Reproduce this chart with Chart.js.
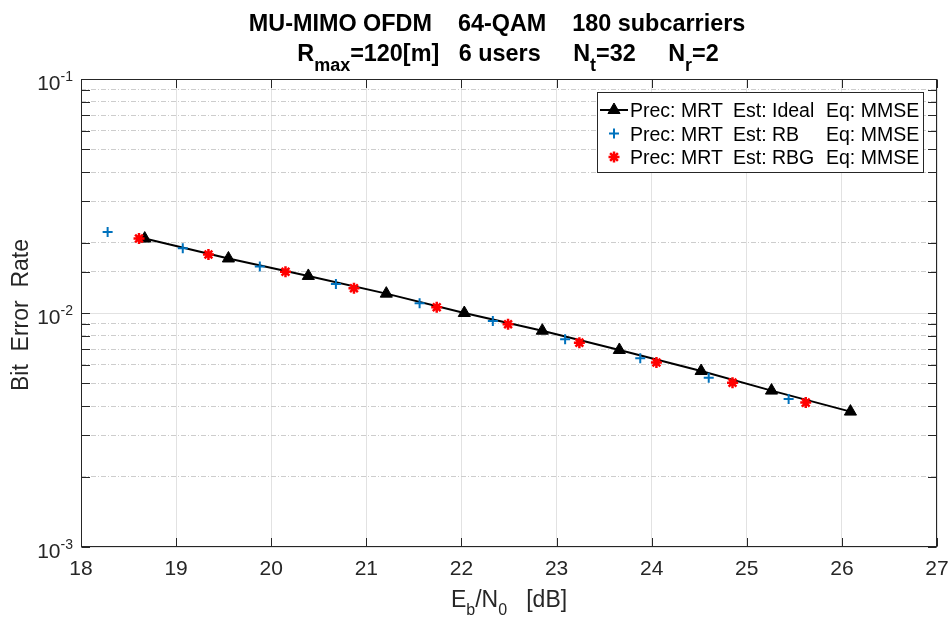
<!DOCTYPE html>
<html>
<head>
<meta charset="utf-8">
<title>MU-MIMO OFDM BER</title>
<script src="https://cdn.jsdelivr.net/npm/chart.js@4.4.1/dist/chart.umd.min.js"></script>
<style>
  html, body { margin: 0; padding: 0; background: #fff; }
  #wrap { width: 950px; height: 618px; position: relative; }
</style>
</head>
<body>
<div id="wrap"><canvas id="berChart"></canvas></div>
<script>
// values: Eb/N0 [dB] and bit error rate per curve
const idealEbN0 = [18.67, 19.55, 20.39, 21.21, 22.03, 22.85, 23.66, 24.52, 25.26, 26.09];
const idealBer  = [0.0208, 0.0171, 0.0144, 0.0121, 0.0100, 0.0084, 0.00695, 0.00565, 0.00466, 0.00379];

const rbEbN0 = [18.28, 19.07, 19.88, 20.68, 21.56, 22.33, 23.09, 23.88, 24.60, 25.44];
const rbBer  = [0.0222, 0.0189, 0.0158, 0.0133, 0.0110, 0.00925, 0.00772, 0.0064, 0.00529, 0.00429];

const rbgEbN0 = [18.61, 19.34, 20.15, 20.87, 21.74, 22.49, 23.24, 24.05, 24.85, 25.62];
const rbgBer  = [0.0208, 0.0178, 0.0150, 0.01276, 0.01058, 0.00895, 0.00747, 0.00615, 0.00504, 0.00414];

const seriesLabels = [
  'Prec: MRT  Est: Ideal  Eq: MMSE',
  'Prec: MRT  Est: RB  Eq: MMSE',
  'Prec: MRT  Est: RBG  Eq: MMSE'
];
const xRange = [18, 27];
const yDecades = [-3, -2, -1];

const FONT = "'Liberation Sans', Arial, Helvetica, sans-serif";
const AXIS_COLOR = '#262626';

function pts(xs, ys) {
  return xs.map((x, i) => ({ x: x, y: ys[i] }));
}

function isDecade(v) {
  const l = Math.log10(v);
  return Math.abs(l - Math.round(l)) < 1e-6;
}

// text with sub/superscripts, parts = [[text, 'sub'|'sup'|undefined], ...]
function drawRich(ctx, parts, x, y, o) {
  const fontOf = p => (o.bold ? 'bold ' : '') + (p[1] ? o.small : o.size) + 'px ' + FONT;
  let w = 0;
  parts.forEach(p => { ctx.font = fontOf(p); w += ctx.measureText(p[0]).width; });
  let cx = o.align === 'center' ? x - w / 2 : (o.align === 'right' ? x - w : x);
  ctx.textAlign = 'left';
  ctx.textBaseline = 'alphabetic';
  parts.forEach(p => {
    ctx.font = fontOf(p);
    const dy = p[1] === 'sub' ? o.shift : (p[1] === 'sup' ? -o.shift : 0);
    ctx.fillText(p[0], cx, y + dy);
    cx += ctx.measureText(p[0]).width;
  });
}

const matlabAxes = {
  id: 'matlabAxes',
  afterDatasetsDraw(chart) {
    const ctx = chart.ctx;
    const a = chart.chartArea;
    const xs = chart.scales.x, ys = chart.scales.y;
    const L = Math.round(a.left) + 0.5, R = Math.round(a.right) - 0.5;
    const T = Math.round(a.top) + 0.5, B = Math.round(a.bottom) - 0.5;
    ctx.save();
    ctx.strokeStyle = AXIS_COLOR;
    ctx.lineWidth = 1;
    ctx.beginPath();
    xs.ticks.forEach(t => {
      const px = Math.round(xs.getPixelForValue(t.value)) + 0.5;
      ctx.moveTo(px, B); ctx.lineTo(px, B - 8.5);
      ctx.moveTo(px, T); ctx.lineTo(px, T + 8.5);
    });
    ys.ticks.forEach(t => {
      const py = Math.round(ys.getPixelForValue(t.value)) + 0.5;
      ctx.moveTo(L, py); ctx.lineTo(L + 8.5, py);
      ctx.moveTo(R, py); ctx.lineTo(R - 8.5, py);
    });
    ctx.stroke();
    ctx.strokeRect(L, T, R - L, B - T);
    ctx.restore();
  },
  afterDraw(chart) {
    const ctx = chart.ctx;
    const a = chart.chartArea;
    const xs = chart.scales.x, ys = chart.scales.y;
    ctx.save();
    ctx.fillStyle = AXIS_COLOR;

    // x tick labels
    ctx.font = '21px ' + FONT;
    ctx.textAlign = 'center';
    ctx.textBaseline = 'alphabetic';
    xs.ticks.forEach(t => ctx.fillText(String(t.value), xs.getPixelForValue(t.value), a.bottom + 28));

    // y tick labels 10^e
    yDecades.forEach(e => {
      const py = ys.getPixelForValue(Math.pow(10, e));
      drawRich(ctx, [['10'], [String(e), 'sup']], a.left - 8, py + 11,
        { size: 21, small: 14, shift: 9, align: 'right' });
    });

    // axis titles
    drawRich(ctx, [['E'], ['b', 'sub'], ['/N'], ['0', 'sub'], ['   [dB]']],
      (a.left + a.right) / 2, 607, { size: 23, small: 16, shift: 8, align: 'center' });
    ctx.save();
    ctx.translate(28, (a.top + a.bottom) / 2 + 2);
    ctx.rotate(-Math.PI / 2);
    ctx.font = '23px ' + FONT;
    ctx.textAlign = 'center';
    ctx.textBaseline = 'alphabetic';
    ctx.fillText('Bit  Error  Rate', 0, 0);
    ctx.restore();

    // title, two lines
    ctx.fillStyle = '#000';
    drawRich(ctx, [['MU-MIMO OFDM    64-QAM    180 subcarriers']], 497, 31,
      { size: 23.4, small: 18, shift: 10, bold: true, align: 'center' });
    drawRich(ctx, [['R'], ['max', 'sub'], ['=120[m]   6 users     N'], ['t', 'sub'], ['=32     N'], ['r', 'sub'], ['=2']],
      508, 61, { size: 23.4, small: 18, shift: 10, bold: true, align: 'center' });

    // legend box in the upper right corner
    const bx = 597.5, by = 92.5, bw = 326, bh = 80;
    ctx.fillStyle = '#fff';
    ctx.fillRect(bx, by, bw, bh);
    ctx.strokeStyle = AXIS_COLOR;
    ctx.lineWidth = 1;
    ctx.strokeRect(bx, by, bw, bh);
    const cols = [630, 733, 826];
    chart.data.datasets.forEach((ds, i) => {
      const ry = 110 + i * 23.5;
      if (ds.showLine) {
        ctx.strokeStyle = ds.borderColor;
        ctx.lineWidth = ds.borderWidth;
        ctx.beginPath(); ctx.moveTo(600, ry); ctx.lineTo(628, ry); ctx.stroke();
      }
      ctx.strokeStyle = ds.borderColor;
      ctx.fillStyle = ds.backgroundColor;
      ctx.lineWidth = ds.pointBorderWidth;
      Chart.helpers.drawPoint(ctx, {
        pointStyle: ds.pointStyle, radius: ds.pointRadius,
        borderWidth: ds.pointBorderWidth, rotation: 0
      }, 614, ry);
      ctx.fillStyle = '#000';
      ctx.font = '19.5px ' + FONT;
      ctx.textAlign = 'left';
      ctx.textBaseline = 'alphabetic';
      ds.label.split(/\s{2,}/).forEach((s, k) => ctx.fillText(s, cols[k], ry + 7));
    });
    ctx.restore();
  }
};

new Chart(document.getElementById('berChart'), {
  type: 'scatter',
  data: {
    datasets: [
      {
        label: seriesLabels[0],
        data: pts(idealEbN0, idealBer),
        showLine: true,
        borderColor: '#000000',
        backgroundColor: '#000000',
        borderWidth: 2,
        pointStyle: 'triangle',
        pointRadius: 7,
        pointBorderWidth: 1,
        order: 3
      },
      {
        label: seriesLabels[1],
        data: pts(rbEbN0, rbBer),
        showLine: false,
        borderColor: '#0072BD',
        backgroundColor: '#0072BD',
        pointStyle: 'cross',
        pointRadius: 5,
        pointBorderWidth: 2,
        order: 2
      },
      {
        label: seriesLabels[2],
        data: pts(rbgEbN0, rbgBer),
        showLine: false,
        borderColor: '#FF0000',
        backgroundColor: '#FF0000',
        pointStyle: 'star',
        pointRadius: 5.5,
        pointBorderWidth: 2.5,
        order: 1
      }
    ]
  },
  options: {
    responsive: true,
    maintainAspectRatio: false,
    animation: false,
    layout: { padding: { top: 79, right: 13, left: 0, bottom: 0 } },
    plugins: {
      legend: { display: false },
      tooltip: { enabled: false },
      title: { display: false }
    },
    scales: {
      x: {
        type: 'linear',
        min: xRange[0],
        max: xRange[1],
        ticks: { stepSize: 1, display: false },
        grid: { color: '#e2e2e2', drawTicks: false },
        border: { display: false },
        afterFit(s) { s.height = 71; }
      },
      y: {
        type: 'logarithmic',
        min: Math.pow(10, yDecades[0]),
        max: Math.pow(10, yDecades[yDecades.length - 1]),
        ticks: { display: false },
        grid: {
          drawTicks: false,
          color: c => (c.tick && isDecade(c.tick.value)) ? '#e2e2e2' : 'rgba(0,0,0,0)'
        },
        border: { display: false },
        afterFit(s) { s.width = 81; }
      },
      yMinor: {
        type: 'logarithmic',
        position: 'left',
        min: Math.pow(10, yDecades[0]),
        max: Math.pow(10, yDecades[yDecades.length - 1]),
        ticks: { display: false },
        grid: {
          drawTicks: false,
          color: c => (c.tick && !isDecade(c.tick.value)) ? '#cdcdcd' : 'rgba(0,0,0,0)'
        },
        border: { display: false, dash: [5, 2, 1, 2] },
        afterFit(s) { s.width = 0; }
      }
    }
  },
  plugins: [matlabAxes]
});
</script>
</body>
</html>
